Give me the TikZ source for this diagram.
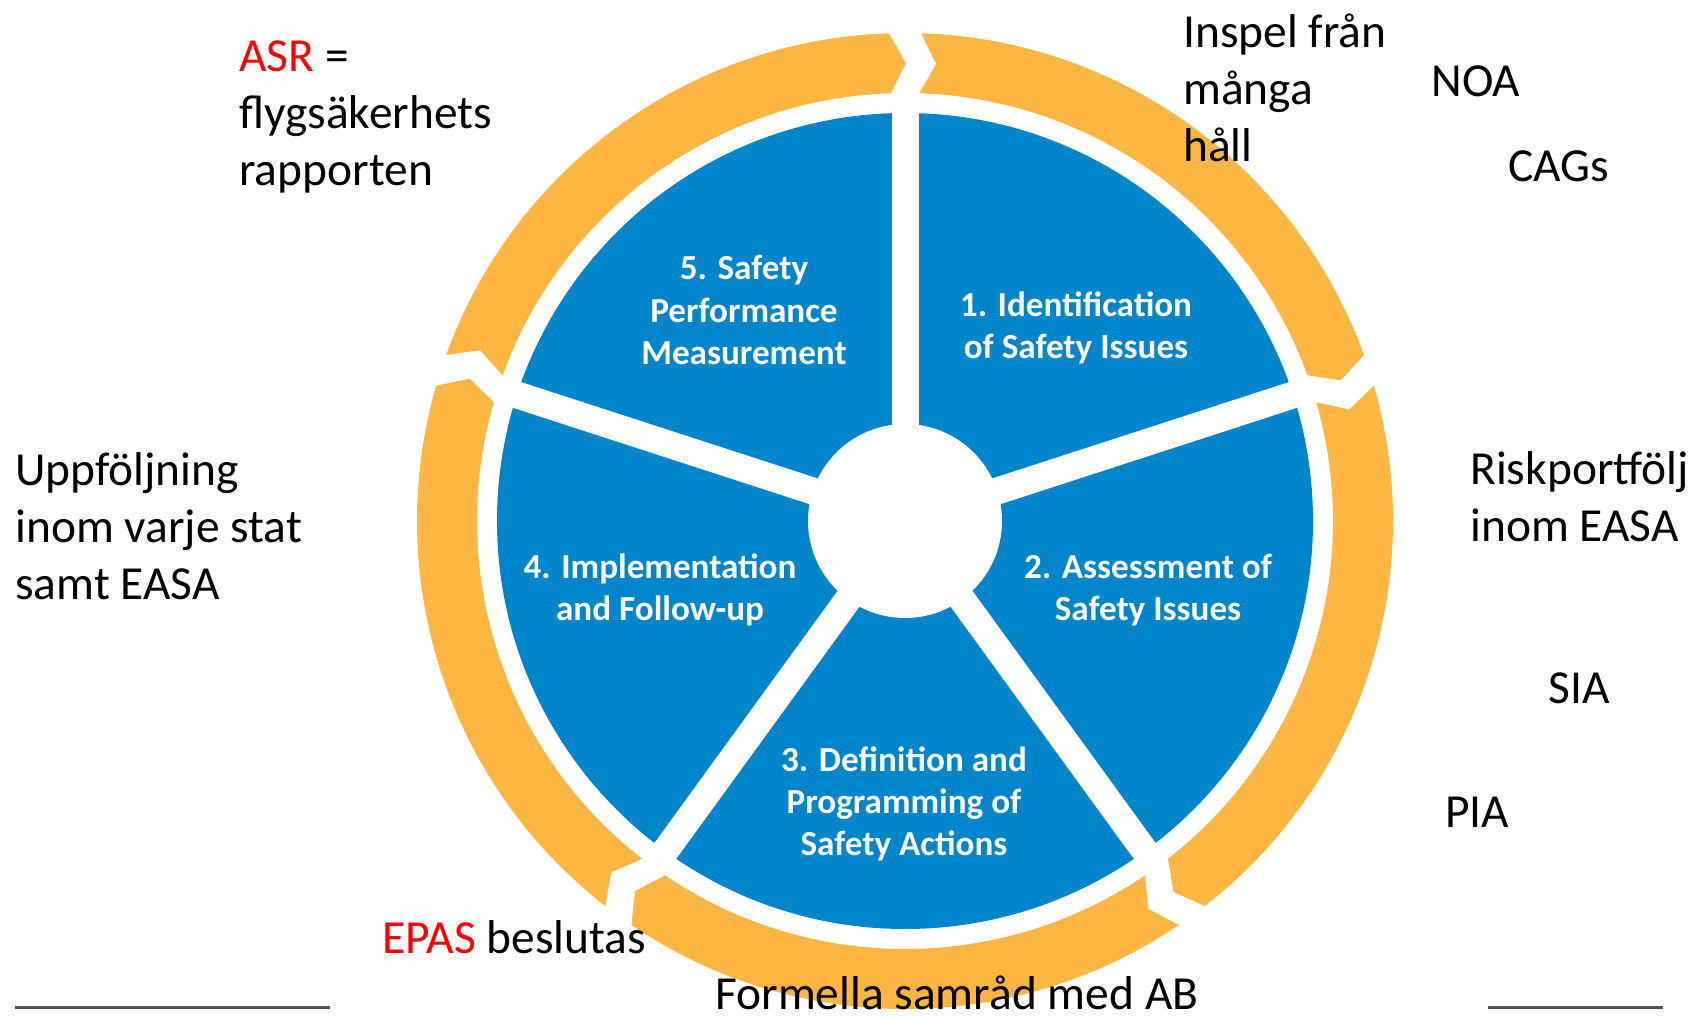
\documentclass[tikz,border=0pt]{standalone}
\usepackage{fontspec}
\setmainfont{Carlito}
\usepackage{xcolor}
\definecolor{ringorange}{RGB}{252,182,65}
\definecolor{sectorblue}{RGB}{0,133,202}
\definecolor{asrred}{RGB}{255,0,0}
\definecolor{rulegray}{RGB}{85,85,85}
\usepackage{tikz}
\newcommand{\px}{0.02cm}
\newcommand{\ringouter}{488}
\newcommand{\ringinner}{428}
\newcommand{\ringmid}{458}
\newcommand{\gaphalf}{1.9}
\newcommand{\tipdepth}{2}
\newcommand{\redword}[1]{{\color{asrred}#1}}
\tikzset{
    outer/.style={anchor=west, align=left, inner sep=0pt, font=\fontsize{27}{32.4}\selectfont},
    sector/.style={align=center, inner sep=0pt, text=white, font=\bfseries\fontsize{20}{24}\selectfont},
    ring/.style={fill=ringorange},
    spoke/.style={white, line width=27*\px},
    rule/.style={rulegray, line width=3*\px}
}

\begin{document}
\begin{tikzpicture}[x=\px, y=-\px]
              \useasboundingbox (0,0) rectangle (1697,1017);

              % cycle: orange arrows, blue sectors
              \begin{scope}[shift={(905,521)}, yscale=-1]
                  \coordinate (hub) at (0,0);
                  \foreach \g in {162,90,18,-54,-126} {
                      \pgfmathsetmacro{\s}{\g-\gaphalf}
                      \pgfmathsetmacro{\e}{\g-72+\gaphalf}
                      \pgfmathsetmacro{\sn}{\s-\tipdepth}
                      \pgfmathsetmacro{\et}{\e-\tipdepth}
                      \fill[ring] (\s:\ringouter) arc[start angle=\s, end angle=\e, radius=\ringouter]
                          -- (\et:\ringmid) -- (\e:\ringinner)
                          arc[start angle=\e, end angle=\s, radius=\ringinner]
                          -- (\sn:\ringmid) -- cycle;
                  }
                  \fill[sectorblue] (hub) circle[radius=408];
                  \foreach \a in {90,18,-54,-126,162}
                      \draw[spoke] (hub) -- (\a:418);
                  \fill[white] (hub) circle[radius=97];
              \end{scope}

              \node[sector] (sector-5) at (744,310) {5. Safety\\Performance\\Measurement};
              \node[sector] (sector-1) at (1076,328) {1. Identification\\of Safety Issues};
              \node[sector] (sector-2) at (1148,590) {2. Assessment of\\Safety Issues};
              \node[sector] (sector-3) at (904,804) {3. Definition and\\Programming of\\Safety Actions};
              \node[sector] (sector-4) at (660,590) {4. Implementation\\and Follow-up};

              \node[outer] (asr) at (239,117) {\redword{ASR} =\\flygsäkerhets\\rapporten};
              \node[outer] (inspel) at (1183,88) {Inspel från\\många\\håll};
              \node[outer] (noa) at (1431,81) {NOA};
              \node[outer] (cags) at (1508,166) {CAGs};
              \node[outer] (risk) at (1470,497) {Riskportfölj\\inom EASA};
              \node[outer] (uppfoljning) at (15,526) {Uppföljning\\inom varje stat\\samt EASA};
              \node[outer] (sia) at (1548,688) {SIA};
              \node[outer] (pia) at (1445,812) {PIA};
              \node[outer] (epas) at (382,937) {\redword{EPAS} beslutas};
              \node[outer] (samrad) at (715,993) {Formella samråd med AB};

              \coordinate (rule-left-a) at (15,1007);
              \coordinate (rule-left-b) at (330,1007);
              \coordinate (rule-right-a) at (1488,1007);
              \coordinate (rule-right-b) at (1663,1007);
              \draw[rule]
                (rule-left-a) -- (rule-left-b)
                (rule-right-a) -- (rule-right-b);
\end{tikzpicture}
\end{document}
